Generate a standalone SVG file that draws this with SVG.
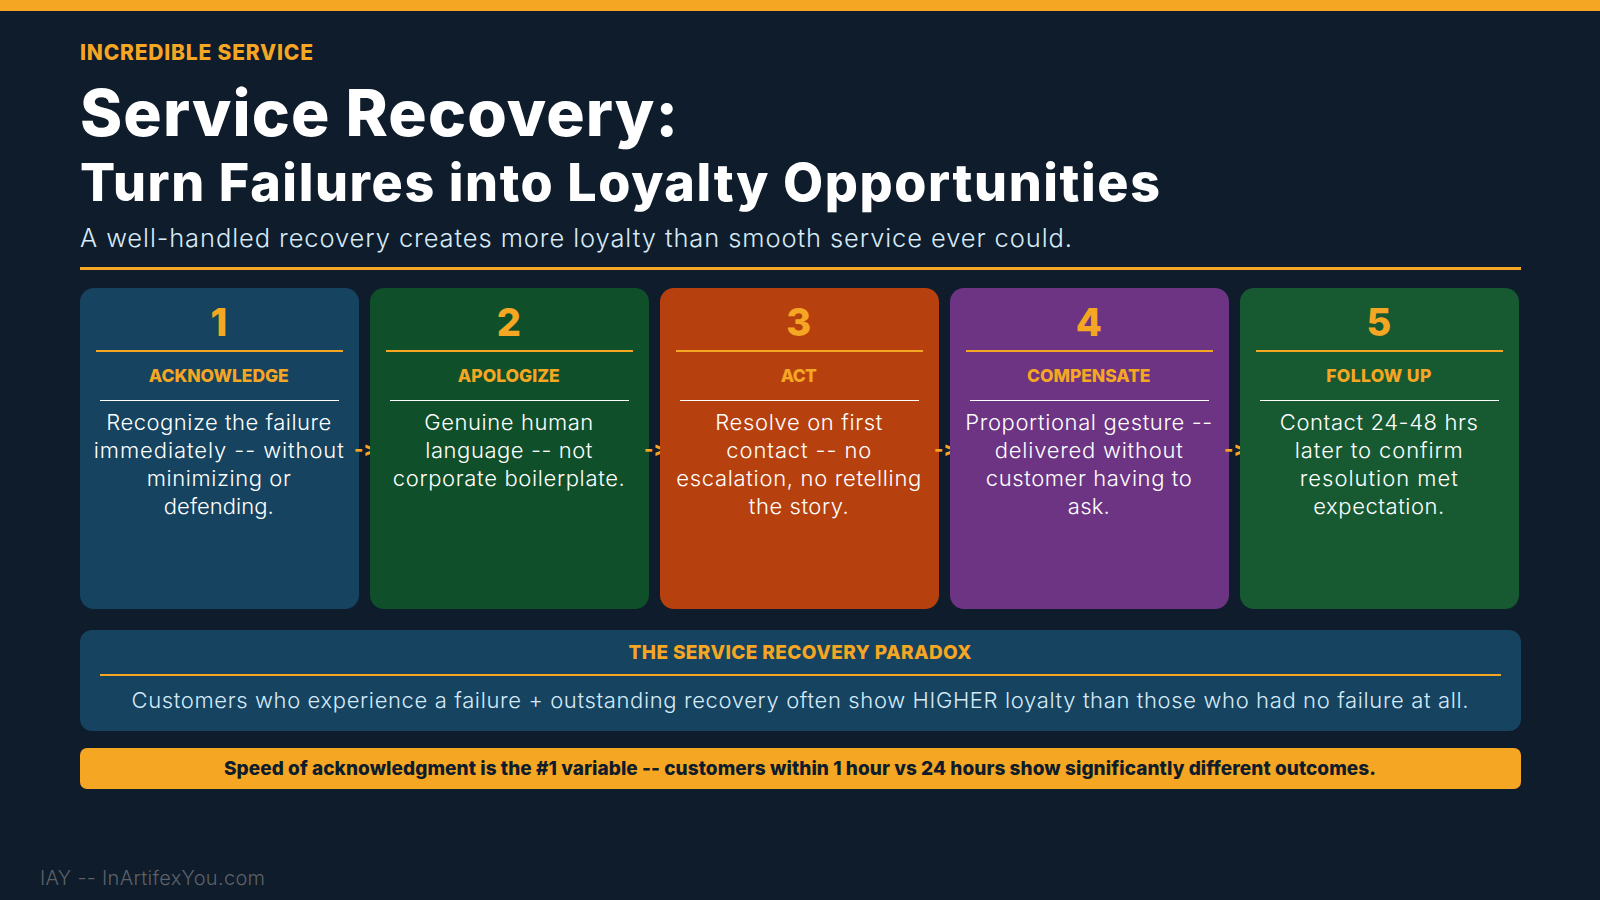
<svg xmlns="http://www.w3.org/2000/svg" width="1600" height="900" viewBox="0 0 1600 900">
<defs>
<style>
text{font-family:"Inter","Liberation Sans",sans-serif;font-variant-ligatures:none;font-feature-settings:"calt" 0,"liga" 0}
.amber{fill:#F5A623}
.card{rx:14px}
.num{font-size:38px;font-weight:800;fill:#F5A623;text-anchor:middle}
.ttl{font-size:17.5px;font-weight:800;fill:#F5A623;text-anchor:middle}
.body{font-size:22px;font-weight:300;fill:#fff;text-anchor:middle}
.arrow{font-size:20px;font-weight:800;fill:#F5A623}
</style>
<clipPath id="arrowClip"><rect x="340" y="430" width="30" height="40"/><rect x="630" y="430" width="30" height="40"/><rect x="920" y="430" width="30" height="40"/><rect x="1210" y="430" width="30" height="40"/></clipPath>
</defs>
<rect width="1600" height="900" fill="#0E1C2B"/>
<rect id="top-bar" width="1600" height="11" fill="#F5A623"/>
<g id="header">
<text x="80" y="59.5" font-size="21" font-weight="800" class="amber" textLength="233">INCREDIBLE SERVICE</text>
<text x="80" y="136" font-size="64" font-weight="800" fill="#fff" textLength="598">Service Recovery:</text>
<text x="80" y="201" font-size="52" font-weight="800" fill="#fff" textLength="1080">Turn Failures into Loyalty Opportunities</text>
<text x="80" y="247" font-size="25.5" font-weight="300" fill="#D6EAF8" textLength="992">A well-handled recovery creates more loyalty than smooth service ever could.</text>
<rect x="80" y="267" width="1441" height="3" fill="#F5A623"/>
</g>
<g id="step-1">
<rect x="80" y="288" width="279" height="321" class="card" fill="#154360"/>
<text x="218.8" y="336" class="num">1</text>
<rect x="96" y="350" width="247" height="2" fill="#F5A623"/>
<text x="218.8" y="382" class="ttl" textLength="140">ACKNOWLEDGE</text>
<rect x="100" y="400" width="239" height="1" fill="#fff"/>
<text x="218.8" y="430" class="body" textLength="225">Recognize the failure</text>
<text x="218.8" y="458" class="body" textLength="250">immediately -- without</text>
<text x="218.8" y="486" class="body" textLength="144">minimizing or</text>
<text x="218.8" y="514" class="body" textLength="110">defending.</text>
</g>
<g id="step-2">
<rect x="370" y="288" width="279" height="321" class="card" fill="#0F4F2A"/>
<text x="508.8" y="336" class="num">2</text>
<rect x="386" y="350" width="247" height="2" fill="#F5A623"/>
<text x="508.8" y="382" class="ttl" textLength="102">APOLOGIZE</text>
<rect x="390" y="400" width="239" height="1" fill="#fff"/>
<text x="508.8" y="430" class="body" textLength="169">Genuine human</text>
<text x="508.8" y="458" class="body" textLength="167">language -- not</text>
<text x="508.8" y="486" class="body" textLength="232">corporate boilerplate.</text>
</g>
<g id="step-3">
<rect x="660" y="288" width="279" height="321" class="card" fill="#B7410E"/>
<text x="798.8" y="336" class="num">3</text>
<rect x="676" y="350" width="247" height="2" fill="#F5A623"/>
<text x="798.8" y="382" class="ttl" textLength="36">ACT</text>
<rect x="680" y="400" width="239" height="1" fill="#fff"/>
<text x="798.8" y="430" class="body" textLength="167">Resolve on first</text>
<text x="798.8" y="458" class="body" textLength="145">contact -- no</text>
<text x="798.8" y="486" class="body" textLength="245">escalation, no retelling</text>
<text x="798.8" y="514" class="body" textLength="100">the story.</text>
</g>
<g id="step-4">
<rect x="950" y="288" width="279" height="321" class="card" fill="#6C3483"/>
<text x="1088.8" y="336" class="num">4</text>
<rect x="966" y="350" width="247" height="2" fill="#F5A623"/>
<text x="1088.8" y="382" class="ttl" textLength="123.5">COMPENSATE</text>
<rect x="970" y="400" width="239" height="1" fill="#fff"/>
<text x="1088.8" y="430" class="body" textLength="247">Proportional gesture --</text>
<text x="1088.8" y="458" class="body" textLength="188">delivered without</text>
<text x="1088.8" y="486" class="body" textLength="206">customer having to</text>
<text x="1088.8" y="514" class="body" textLength="42">ask.</text>
</g>
<g id="step-5">
<rect x="1240" y="288" width="279" height="321" class="card" fill="#175A32"/>
<text x="1378.8" y="336" class="num">5</text>
<rect x="1256" y="350" width="247" height="2" fill="#F5A623"/>
<text x="1378.8" y="382" class="ttl" textLength="105">FOLLOW UP</text>
<rect x="1260" y="400" width="239" height="1" fill="#fff"/>
<text x="1378.8" y="430" class="body" textLength="198">Contact 24-48 hrs</text>
<text x="1378.8" y="458" class="body" textLength="168">later to confirm</text>
<text x="1378.8" y="486" class="body" textLength="158">resolution met</text>
<text x="1378.8" y="514" class="body" textLength="131">expectation.</text>
</g>
<g id="connectors" clip-path="url(#arrowClip)">
<text x="354" y="456" class="arrow">-&gt;</text>
<text x="644" y="456" class="arrow">-&gt;</text>
<text x="934" y="456" class="arrow">-&gt;</text>
<text x="1224" y="456" class="arrow">-&gt;</text>
</g>
<g id="paradox">
<rect x="80" y="630" width="1441" height="101" rx="12" fill="#154360"/>
<text x="800" y="659" font-size="19" font-weight="800" class="amber" text-anchor="middle" textLength="343">THE SERVICE RECOVERY PARADOX</text>
<rect x="100" y="674" width="1401" height="2" fill="#F5A623"/>
<text x="800" y="708" font-size="22" font-weight="300" fill="#D6EAF8" text-anchor="middle" textLength="1337">Customers who experience a failure + outstanding recovery often show HIGHER loyalty than those who had no failure at all.</text>
</g>
<g id="callout">
<rect x="80" y="748" width="1441" height="41" rx="7" fill="#F5A623"/>
<text x="800" y="775" font-size="19" font-weight="800" fill="#0E1C2B" text-anchor="middle" textLength="1152">Speed of acknowledgment is the #1 variable -- customers within 1 hour vs 24 hours show significantly different outcomes.</text>
</g>
<text id="footer" x="40" y="885" font-size="20" font-weight="300" fill="#5E6166" textLength="225">IAY -- InArtifexYou.com</text>
</svg>
